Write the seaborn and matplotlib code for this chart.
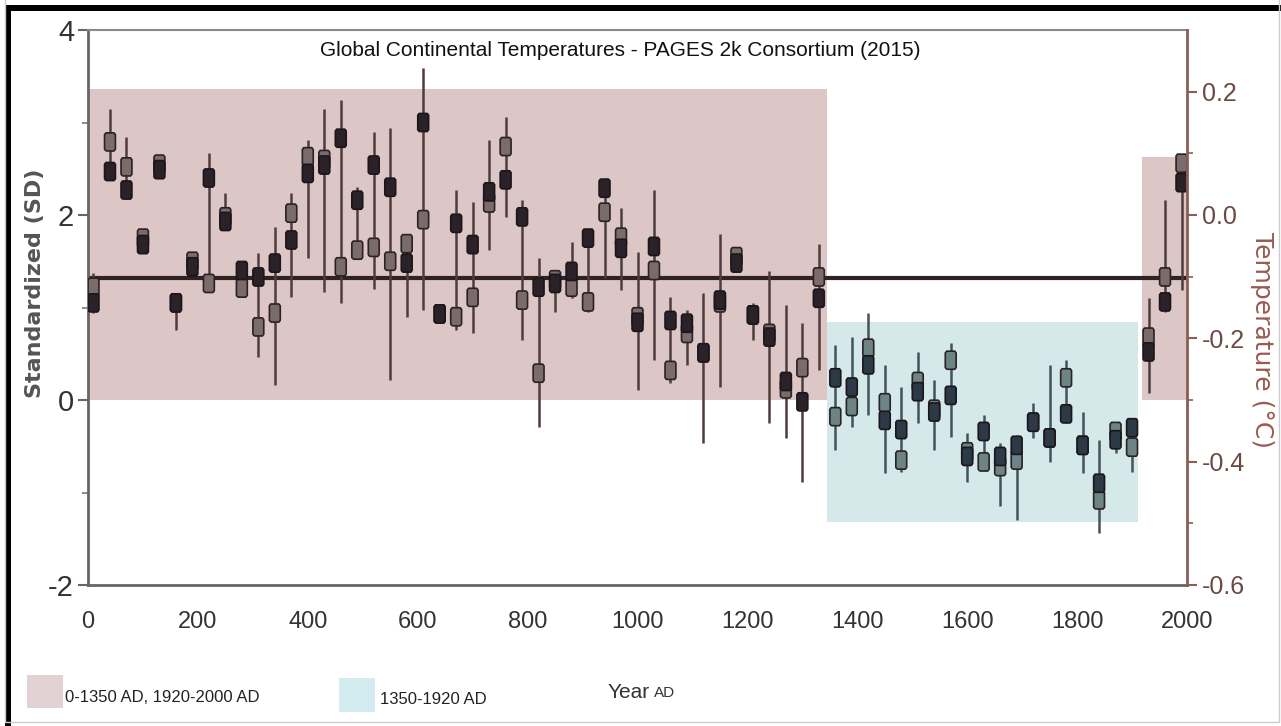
import numpy as np
import pandas as pd
import matplotlib
matplotlib.use('Agg')
import matplotlib.pyplot as plt
import seaborn as sns
from matplotlib.patches import Rectangle
from matplotlib.path import Path

# 30-year bins, two estimates per bin plus the spread
years = [10, 40, 70, 100, 130, 160, 190, 220, 250, 280, 310, 340, 370, 400, 430, 460, 490,
         520, 550, 580, 610, 640, 670, 700, 730, 760, 790, 820, 850, 880, 910, 940, 970, 1000,
         1030, 1060, 1090, 1120, 1150, 1180, 1210, 1240, 1270, 1300, 1330, 1360, 1390, 1420,
         1450, 1480, 1510, 1540, 1570, 1600, 1630, 1660, 1690, 1720, 1750, 1780, 1810, 1840,
         1870, 1900, 1930, 1960, 1990]
dark_vals = [1.05, 2.47, 2.27, 1.68, 2.49, 1.05, 1.44, 2.40, 1.93, 1.40, 1.33, 1.48, 1.73,
             2.45, 2.54, 2.83, 2.16, 2.54, 2.30, 1.48, 3.00, 0.93, 1.91, 1.68, 2.25, 2.38,
             1.98, 1.22, 1.26, 1.39, 1.75, 2.29, 1.64, 0.84, 1.66, 0.86, 0.83, 0.51, 1.08,
             1.48, 0.92, 0.68, 0.20, -0.02, 1.10, 0.24, 0.14, 0.38, -0.22, -0.32, 0.09,
             -0.13, 0.05, -0.61, -0.34, -0.61, -0.49, -0.24, -0.41, -0.15, -0.49, -0.90,
             -0.43, -0.30, 0.52, 1.06, 2.35]
light_vals = [1.22, 2.79, 2.52, 1.75, 2.55, 1.05, 1.50, 1.26, 1.98, 1.21, 0.79, 0.94, 2.02,
              2.63, 2.60, 1.44, 1.62, 1.65, 1.50, 1.69, 1.95, 0.93, 0.90, 1.11, 2.13, 2.74,
              1.08, 0.29, 1.30, 1.22, 1.06, 2.03, 1.76, 0.90, 1.40, 0.32, 0.72, 0.51, 1.05,
              1.55, 0.92, 0.72, 0.12, 0.35, 1.33, -0.18, -0.07, 0.56, -0.03, -0.65, 0.20,
              -0.10, 0.43, -0.56, -0.67, -0.72, -0.65, -0.24, -0.41, 0.24, -0.49, -1.08,
              -0.34, -0.51, 0.68, 1.33, 2.56]
low_vals = [0.94, 2.40, 2.20, 1.62, 2.45, 0.76, 1.35, 1.20, 1.85, 1.15, 0.46, 0.16, 1.11,
            1.53, 1.17, 1.05, 1.60, 1.20, 0.22, 0.90, 0.97, 0.85, 0.76, 0.72, 1.62, 1.98,
            0.65, -0.29, 0.95, 1.10, 0.95, 1.32, 1.19, 0.11, 0.43, 0.18, 0.38, -0.47, 0.14,
            1.40, 0.65, -0.25, -0.41, -0.89, 0.32, -0.54, -0.29, -0.16, -0.79, -0.78, -0.25,
            -0.54, -0.40, -0.89, -0.76, -1.15, -1.30, -0.41, -0.67, -0.25, -0.79, -1.44,
            -0.57, -0.78, 0.08, 0.95, 1.19]
high_vals = [1.37, 3.15, 2.84, 1.80, 2.60, 1.10, 1.55, 2.67, 2.24, 1.45, 1.59, 1.87, 2.24,
             2.81, 3.15, 3.24, 2.30, 2.90, 2.94, 1.80, 3.59, 1.00, 2.27, 2.14, 2.81, 3.06,
             2.16, 1.53, 1.40, 1.71, 1.85, 2.40, 2.08, 1.60, 2.27, 1.11, 0.97, 1.16, 1.80,
             1.60, 1.05, 1.39, 1.03, 0.83, 1.69, 0.59, 0.68, 0.94, 0.38, 0.14, 0.52, 0.22,
             0.62, -0.36, -0.16, -0.47, -0.38, -0.03, 0.38, 0.43, -0.13, -0.43, -0.30, -0.25,
             1.10, 2.16, 2.63]

# shaded periods
period_names = ['warm', 'cool', 'warm']
period_start = [0, 1345, 1918]
period_end = [1345, 1910, 2000]
period_bottom = [0.0, -1.32, 0.0]
period_top = [3.36, 0.84, 2.63]
ref_level = 1.32

x_ticks = [0, 200, 400, 600, 800, 1000, 1200, 1400, 1600, 1800, 2000]
y_ticks = [-2, 0, 2, 4]
t_ticks = [-0.6, -0.4, -0.2, 0.0, 0.2]

df = pd.DataFrame({'year': years, 'dark': dark_vals, 'light': light_vals,
                   'lo': low_vals, 'hi': high_vals})
df['period'] = np.where((df['year'] > 1345) & (df['year'] < 1915), 'cool', 'warm')

sns.set_style('white')
plt.rcParams['font.family'] = ['Liberation Sans', 'DejaVu Sans']
plt.rcParams['axes.unicode_minus'] = False

pink = '#dcc6c6'
blue = '#d5e9eb'
box_colors = {'warm': pink, 'cool': blue}

# rounded-ish tall box marker
rr = Path([(-0.45, -1), (0.45, -1), (0.6, -0.8), (0.6, 0.8), (0.45, 1), (-0.45, 1),
           (-0.6, 0.8), (-0.6, -0.8), (-0.45, -1)])

fig = plt.figure(figsize=(12.81, 7.26), dpi=100)
ax = fig.add_axes([88 / 1281, 1 - 585 / 726, 1099 / 1281, 555 / 726])

for name, x0, x1, y0, y1 in zip(period_names, period_start, period_end, period_bottom, period_top):
    ax.add_patch(Rectangle((x0, y0), x1 - x0, y1 - y0, facecolor=box_colors[name],
                           edgecolor='none', zorder=0))

ax.axhline(ref_level, color='#2e2322', lw=3, zorder=2)

# error bars
for per, bar_col in [('warm', '#4e3c3e'), ('cool', '#44525a')]:
    sub = df[df['period'] == per]
    ax.vlines(sub['year'], sub['lo'], sub['hi'], colors=bar_col, lw=1.8, zorder=2.5)

sns.scatterplot(data=df, x='year', y='light', hue='period',
                palette={'warm': '#7b6b6b', 'cool': '#6c8485'}, marker=rr, s=170,
                edgecolor='#2a2226', linewidth=1.2, ax=ax, zorder=3, legend=False)
sns.scatterplot(data=df, x='year', y='dark', hue='period',
                palette={'warm': '#2a2129', 'cool': '#2c3a47'}, marker=rr, s=170,
                edgecolor='#1c161a', linewidth=1.2, ax=ax, zorder=4, legend=False)

ax.set_xlim(0, 2000)
ax.set_ylim(-2, 4)
ax.set_xticks(x_ticks)
ax.set_xticks(np.arange(0, 2001, 50), minor=True)
ax.set_yticks(y_ticks)
ax.set_yticks([-1, 1, 3], minor=True)
ax.set_xlabel('')
ax.set_ylabel('')
ax.tick_params(axis='both', which='major', direction='out', length=7, width=1.5,
               color='#666666', labelcolor='#333333')
ax.tick_params(axis='both', which='minor', direction='out', length=4, width=1.2,
               color='#777777')
ax.tick_params(axis='x', labelsize=17, pad=12)
ax.tick_params(axis='y', labelsize=21, pad=3)
for s in ['left', 'bottom']:
    ax.spines[s].set_color('#666666')
    ax.spines[s].set_linewidth(2)
ax.spines['top'].set_color('#8a8a8a')
ax.spines['top'].set_linewidth(1.5)
ax.spines['right'].set_visible(False)

ax2 = ax.twinx()
ax2.set_ylim(-0.6, 0.3)
ax2.set_yticks(t_ticks)
ax2.set_yticklabels(['%.1f' % t for t in t_ticks])
ax2.set_yticks([-0.5, -0.3, -0.1, 0.1], minor=True)
for s in ['left', 'top', 'bottom']:
    ax2.spines[s].set_visible(False)
ax2.spines['right'].set_color('#8b5e55')
ax2.spines['right'].set_linewidth(2)
ax2.tick_params(axis='y', which='major', direction='out', length=7, width=1.5,
                color='#8b5e55', labelcolor='#6b4a45', labelsize=18)
ax2.tick_params(axis='y', which='minor', direction='out', length=4, width=1.2,
                color='#8b5e55')

ax.text((620 - 88) / 1099, (585 - 50) / 555,
        'Global Continental Temperatures - PAGES 2k Consortium (2015)',
        transform=ax.transAxes, ha='center', va='center', fontsize=15, color='#111111')

fig.text(35 / 1281, 1 - 283 / 726, 'Standardized (SD)', rotation=90, ha='center',
         va='center', fontsize=16, fontweight='bold', color='#555555',
         family=['DejaVu Sans'])
fig.text(1262 / 1281, 1 - 340 / 726, 'Temperature (°C)', rotation=-90, ha='center',
         va='center', fontsize=18, color='#9a5a50', family=['DejaVu Sans'])

# x label
year_txt = fig.text(608 / 1281, 1 - 692 / 726, 'Year', ha='left', va='center',
                    fontsize=15, color='#333333')
ax.annotate('AD', xy=(1, 0.5), xycoords=year_txt, xytext=(3, -1),
            textcoords='offset points', ha='left', va='center', fontsize=11,
            color='#333333', annotation_clip=False)

# legend
fig.add_artist(Rectangle((27 / 1281, 1 - 708 / 726), 36 / 1281, 33 / 726,
                         transform=fig.transFigure, facecolor='#e3d2d3', edgecolor='none'))
fig.text(65 / 1281, 1 - 697 / 726, '0-1350 AD, 1920-2000 AD', ha='left', va='center',
         fontsize=12, color='#222222')
fig.add_artist(Rectangle((339 / 1281, 1 - 712 / 726), 36 / 1281, 34 / 726,
                         transform=fig.transFigure, facecolor='#d3ecef', edgecolor='none'))
fig.text(380 / 1281, 1 - 700 / 726, '1350-1920 AD', ha='left', va='center',
         fontsize=12, color='#222222')

# screenshot frame
fig.add_artist(Rectangle((5 / 1281, 0), 6 / 1281, 1 - 5 / 726, transform=fig.transFigure,
                         facecolor='black', edgecolor='none'))
fig.add_artist(Rectangle((5 / 1281, 1 - 11 / 726), 1, 6 / 726, transform=fig.transFigure,
                         facecolor='black', edgecolor='none'))
fig.add_artist(Rectangle((5 / 1281, 4 / 726), 1274 / 1281, 1, transform=fig.transFigure,
                         facecolor='none', edgecolor='#cccccc', lw=1))

fig.savefig('out.png', dpi=100)
